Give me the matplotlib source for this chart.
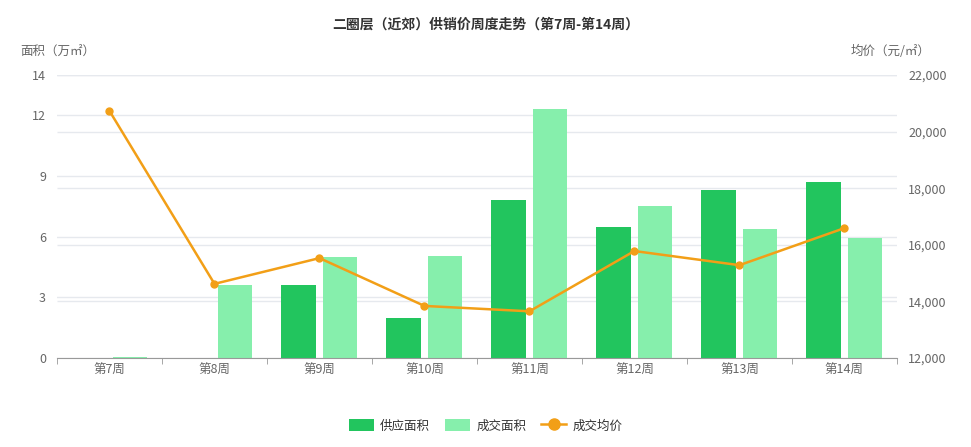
import matplotlib.pyplot as plt
import numpy as np
import matplotlib.transforms as mtransforms
from matplotlib.patches import Patch
from matplotlib.lines import Line2D
from matplotlib.ticker import FuncFormatter

plt.rcParams['font.family'] = ['Noto Sans CJK SC', 'DejaVu Sans']

weeks = ["第7周", "第8周", "第9周", "第10周", "第11周", "第12周", "第13周", "第14周"]
supply = [0, 0, 3.6, 2.0, 7.8, 6.5, 8.3, 8.7]
deal = [0.05, 3.6, 5.0, 5.05, 12.3, 7.5, 6.4, 5.95]
price = [20730, 14620, 15530, 13840, 13650, 15780, 15280, 16590]

c_supply = "#22c55e"
c_deal = "#86efac"
c_price = "#f29f17"
grid_c = "#e6e9ee"
txt_c = "#666666"

fig = plt.figure(figsize=(9.71, 4.47), dpi=100)
ax = fig.add_axes([0.0587, 0.1991, 0.865, 0.6331])
ax2 = ax.twinx()

x = np.arange(len(weeks))
w = 0.33
ax.set_xlim(-0.5, len(weeks) - 0.5)
ax.set_ylim(0, 14)
ax.set_yticks([0, 3, 6, 9, 12, 14])
ax2.set_ylim(12000, 22000)
price_ticks = list(range(12000, 22001, 2000))
ax2.set_yticks(price_ticks)
ax2.yaxis.set_major_formatter(FuncFormatter(lambda v, p: f"{int(v):,}"))

# gridlines of both axes, drawn behind the bars
ax.yaxis.grid(True, color=grid_c, lw=1, zorder=0)
ax.set_axisbelow(True)
tr = mtransforms.blended_transform_factory(ax.transAxes, ax2.transData)
ax.hlines(price_ticks[1:], 0, 1, transform=tr, color=grid_c, lw=1, zorder=0.5)

ax.bar(x - 0.197, supply, w, color=c_supply, zorder=2)
ax.bar(x + 0.197, deal, w, color=c_deal, zorder=2)
ax2.plot(x, price, color=c_price, lw=1.8, marker="o", ms=5, zorder=3)

for a in (ax, ax2):
    for s in a.spines.values():
        s.set_visible(False)
    a.tick_params(axis="y", length=0, labelsize=9, colors=txt_c, pad=8)
ax.spines["bottom"].set_visible(True)
ax.spines["bottom"].set_color("#999999")
ax.set_xticks(x)
ax.set_xticklabels(weeks)
ax.set_xticks(np.arange(-0.5, len(weeks)), minor=True)
ax.tick_params(axis="x", which="major", length=0, labelsize=9, colors=txt_c, pad=4)
ax.tick_params(axis="x", which="minor", length=4, color="#999999")
ax2.patch.set_visible(False)

fig.text(0.5, 0.944, "二圈层（近郊）供销价周度走势（第7周-第14周）", ha="center", va="center",
         fontsize=10, fontweight="bold", color="#333333")
fig.text(0.021, 0.884, "面积（万㎡）", ha="left", va="center", fontsize=9, color=txt_c)
fig.text(0.958, 0.884, "均价（元/㎡）", ha="right", va="center", fontsize=9, color=txt_c)

handles = [
    Patch(facecolor=c_supply, edgecolor="none", label="供应面积"),
    Patch(facecolor=c_deal, edgecolor="none", label="成交面积"),
    Line2D([0], [0], color=c_price, lw=1.8, marker="o", ms=8, label="成交均价"),
]
fig.legend(handles=handles, loc="center", bbox_to_anchor=(0.5, 0.047), ncol=3, frameon=False,
           fontsize=9, handlelength=2.0, handleheight=1.1, columnspacing=1.2, handletextpad=0.5,
           labelcolor="#333333")

fig.savefig("out.png", dpi=100, facecolor="white")
